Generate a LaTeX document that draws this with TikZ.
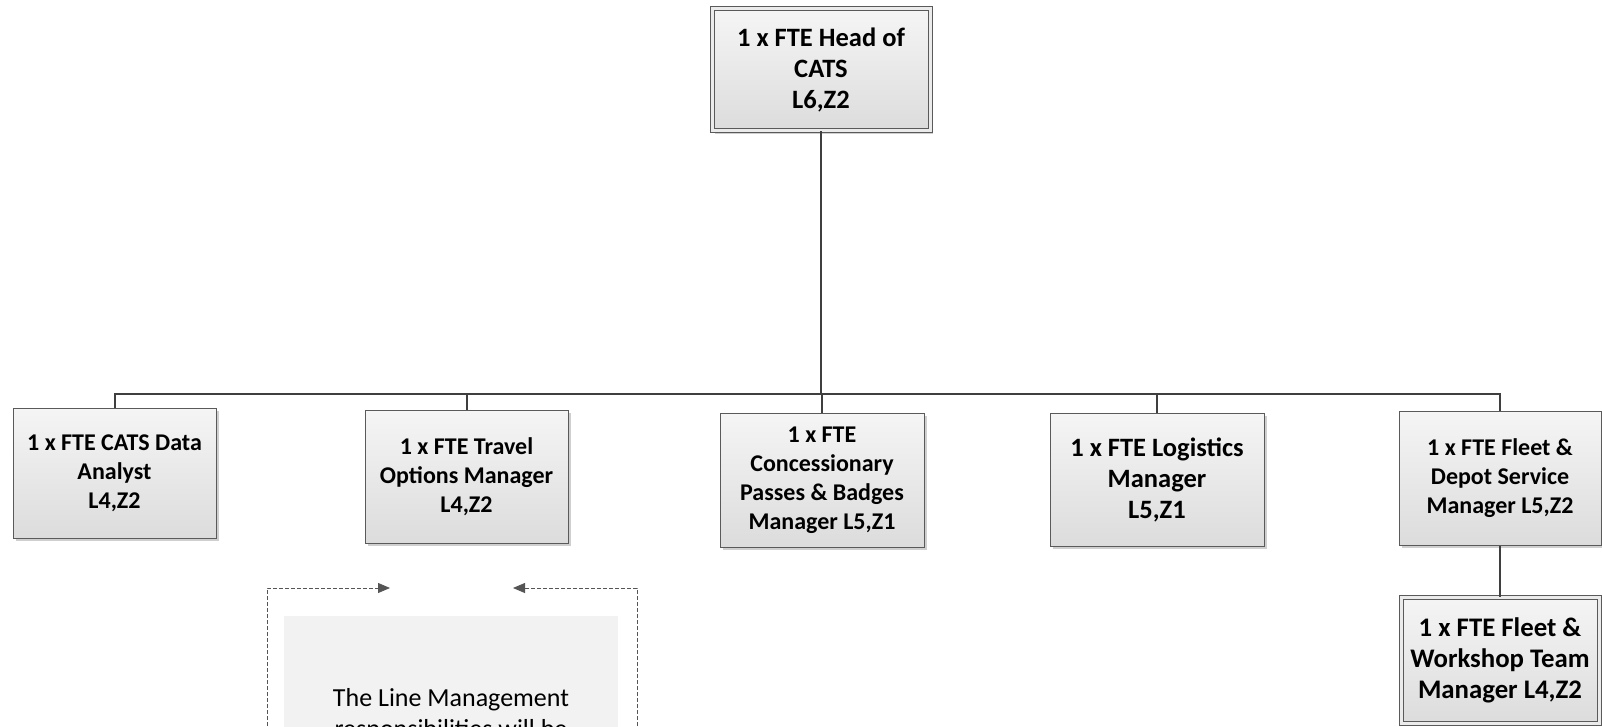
\documentclass[tikz,border=0pt]{standalone}
\usepackage{fontspec}
\setmainfont{Carlito}
\usetikzlibrary{shadows,arrows.meta}
\definecolor{boxline}{HTML}{5A5A5A}
\definecolor{conncol}{HTML}{3F3F3F}
\definecolor{boxtop}{HTML}{F5F5F5}
\definecolor{boxbot}{HTML}{DCDCDC}
\definecolor{notefill}{HTML}{F2F2F2}
\definecolor{shadowcol}{HTML}{CFCFCF}
\definecolor{dashcol}{HTML}{555555}
\tikzset{
  orgbox/.style={draw=boxline, line width=1pt, top color=boxtop, bottom color=boxbot,
    align=center, inner sep=0pt,
    font=\bfseries\fontsize{24}{29}\selectfont,
    drop shadow={shadow xshift=3pt, shadow yshift=-3pt, fill=shadowcol, opacity=1}},
  bigtext/.style={font=\bfseries\fontsize{26.5}{31}\selectfont},
  dblbox/.style={orgbox, double=boxtop!60!boxbot, double distance=3pt},
  conn/.style={draw=conncol, line width=2pt},
  fb/.style={draw=dashcol, line width=0.8pt, dash pattern=on 4pt off 2pt,
    -{Triangle[length=12pt,width=10pt]}},
}
\begin{document}
\begin{tikzpicture}[x=1pt,y=-1pt]
\useasboundingbox (0,0) rectangle (1602,727);
\clip (0,0) rectangle (1602,727);
\coordinate (bus) at (0,394);

\node[dblbox, bigtext, minimum width=218pt, minimum height=122pt] (head) at (821,70)
  {1 x FTE Head of\\CATS\\L6,Z2};
\node[orgbox, minimum width=203pt, minimum height=130pt] (data) at (114.5,473)
  {1 x FTE CATS Data\\Analyst\\L4,Z2};
\node[orgbox, minimum width=203pt, minimum height=133pt] (travel) at (466.5,476.5)
  {1 x FTE Travel\\Options Manager\\L4,Z2};
\node[orgbox, minimum width=204pt, minimum height=134pt] (conc) at (822,480)
  {1 x FTE\\Concessionary\\Passes \& Badges\\Manager L5,Z1};
\node[orgbox, bigtext, minimum width=214pt, minimum height=133pt] (logi) at (1157,479.5)
  {1 x FTE Logistics\\Manager\\L5,Z1};
\node[orgbox, minimum width=202pt, minimum height=134pt] (depot) at (1500,478)
  {1 x FTE Fleet \&\\Depot Service\\Manager L5,Z2};
\node[dblbox, font=\bfseries\fontsize{26.8}{31}\selectfont, minimum width=198pt, minimum height=126pt] (work) at (1500,660)
  {1 x FTE Fleet \&\\Workshop Team\\Manager L4,Z2};

\draw[conn] (head.south) -- (head.south |- bus);
\draw[conn] (data.north) |- (depot.north |- bus) -- (depot.north);
\draw[conn] (travel.north) -- (travel.north |- bus);
\draw[conn] (conc.north) -- (conc.north |- bus);
\draw[conn] (logi.north) -- (logi.north |- bus);
\draw[conn] (depot.south) -- (work.north);

\node[fill=notefill, minimum width=334pt, minimum height=160pt, anchor=north] (note) at (451,616) {};
\node[font=\fontsize{26}{31}\selectfont, align=center, inner sep=0pt, anchor=north] (notetext) at (note.north |- 0,688)
  {The Line Management\\responsibilities will be};

\coordinate (la) at (390,588);
\coordinate (lb) at (267,780);
\coordinate (ra) at (513,588);
\coordinate (rb) at (637,780);
\draw[fb] (lb) |- (la);
\draw[fb] (rb) |- (ra);
\end{tikzpicture}
\end{document}
